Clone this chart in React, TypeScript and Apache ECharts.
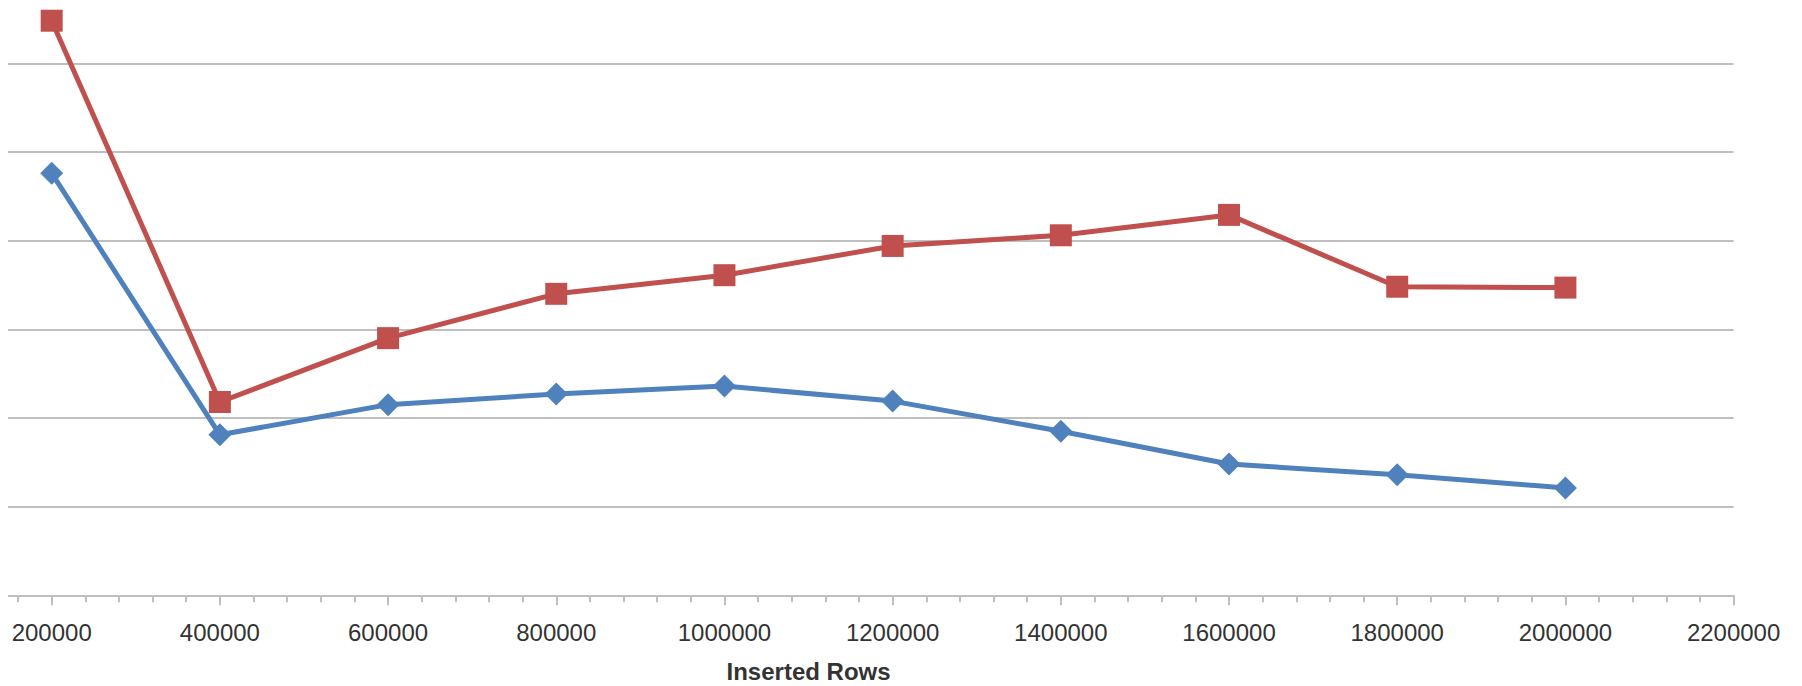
import React, { useEffect, useRef } from "react";
import * as echarts from "echarts";

// Number of inserted rows for each measurement
const insertedRows = [200000, 400000, 600000, 800000, 1000000, 1200000, 1400000, 1600000, 1800000, 2000000];

// First series (blue diamonds)
const series1Values = [47.6, 18.1, 21.5, 22.7, 23.6, 21.9, 18.5, 14.8, 13.6, 12.1];

// Second series (red squares)
const series2Values = [64.8, 21.8, 29.0, 34.0, 36.1, 39.4, 40.6, 42.9, 34.8, 34.7];

const xMin = 0;
const xMax = 2200000;
const xStep = 200000;
const yMin = 0;
const yMax = 70;
const yStep = 10;

const toPairs = (xs: number[], ys: number[]) => xs.map((x, i) => [x, ys[i]]);

export default function App() {
  const ref = useRef<HTMLDivElement | null>(null);

  useEffect(() => {
    if (!ref.current) return;
    const chart = echarts.init(ref.current, undefined, { renderer: "svg" });
    const gray = "#BFBFBF";
    const textColor = "#333333";
    const font = "'Liberation Sans', Arial, sans-serif";

    chart.setOption({
      animation: false,
      backgroundColor: "#ffffff",
      grid: {
        left: -124.5,
        right: 68.4,
        top: -25.4,
        bottom: 90.7,
        containLabel: false,
        outerBoundsMode: "none",
      },
      xAxis: {
        type: "value",
        min: xMin,
        max: xMax,
        interval: xStep,
        name: "Inserted Rows",
        nameLocation: "middle",
        nameGap: 64,
        nameTextStyle: { color: textColor, fontSize: 24, fontWeight: "bold", fontFamily: font },
        axisLine: { show: true, lineStyle: { color: gray, width: 2 } },
        axisTick: { show: true, length: 10, lineStyle: { color: gray, width: 2 } },
        minorTick: { show: true, splitNumber: 5, length: 7, lineStyle: { color: gray, width: 2 } },
        axisLabel: {
          color: textColor,
          fontSize: 24,
          fontFamily: font,
          margin: 25,
          showMinLabel: false,
          formatter: (v: number) => String(v),
        },
        splitLine: { show: false },
      },
      yAxis: {
        type: "value",
        min: yMin,
        max: yMax,
        interval: yStep,
        axisLine: { show: false },
        axisTick: { show: false },
        axisLabel: { show: false },
        splitLine: { show: true, lineStyle: { color: gray, width: 2 } },
      },
      series: [
        {
          name: "Series1",
          type: "line",
          data: toPairs(insertedRows, series1Values),
          symbol: "diamond",
          symbolSize: 23,
          lineStyle: { color: "#4F81BD", width: 5 },
          itemStyle: { color: "#4F81BD" },
        },
        {
          name: "Series2",
          type: "line",
          data: toPairs(insertedRows, series2Values),
          symbol: "rect",
          symbolSize: 22,
          lineStyle: { color: "#C0504D", width: 5 },
          itemStyle: { color: "#C0504D" },
        },
      ],
    });

    return () => chart.dispose();
  }, []);

  return (
    <div
      ref={ref}
      style={{ position: "fixed", left: 8, top: 0, width: 1794, height: 686, overflow: "hidden" }}
    />
  );
}
